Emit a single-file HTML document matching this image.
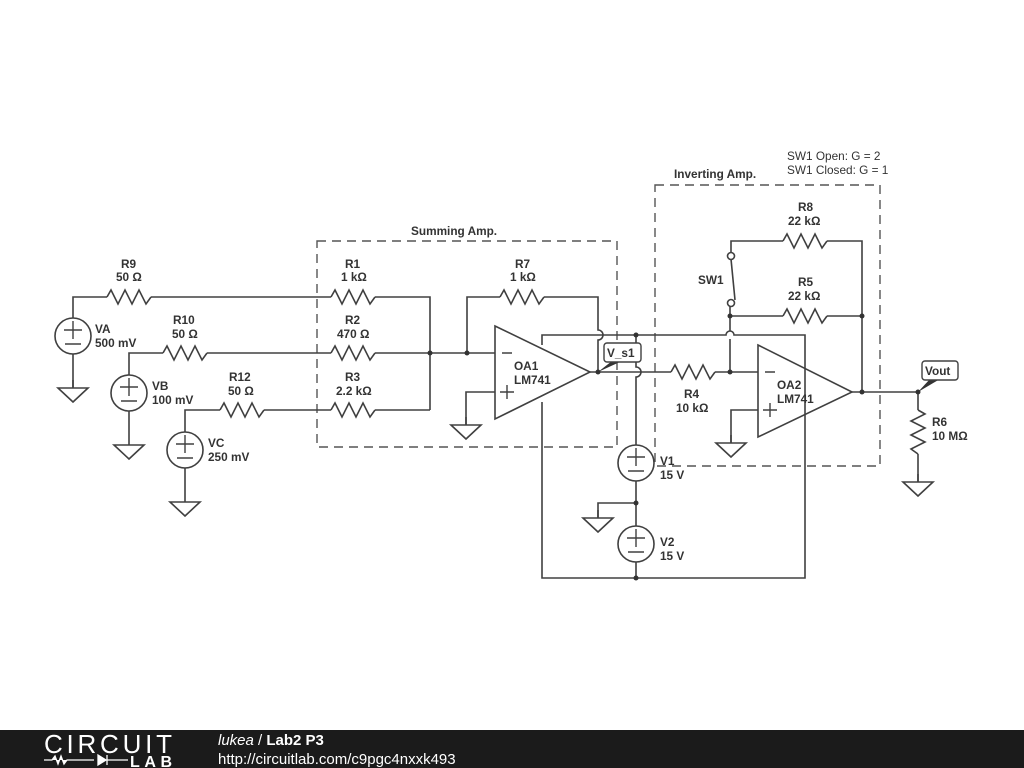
<!DOCTYPE html>
<html><head><meta charset="utf-8"><style>
html,body{margin:0;padding:0;background:#fff;}
svg{display:block;}
text{font-family:"Liberation Sans",Arial,sans-serif;font-size:11.8px;font-weight:bold;fill:#333;}
.n{font-weight:normal;}
</style></head><body>
<svg width="1024" height="768" viewBox="0 0 1024 768" xmlns="http://www.w3.org/2000/svg">
<defs>
<path id="r" d="M0 0 L4 -7 L11 7 L18 -7 L25 7 L32 -7 L39 7 L44 0" fill="none"/>
<g id="gnd"><path d="M0 0 V8 M-15 8 H15 L0 22 Z" fill="none"/></g>
</defs>
<g stroke="#404040" stroke-width="1.6" fill="none">
<g stroke="#555" stroke-dasharray="9,6" stroke-width="1.4">
<rect x="317" y="241" width="300" height="206"/>
<rect x="655" y="185" width="225" height="281"/>
</g>
<circle cx="73" cy="336" r="18"/>
<path d="M73 318 V297 H107 M151 297 H331 M375 297 H430 V410 M73 354 V388"/>
<use href="#r" x="107" y="297"/><use href="#r" x="331" y="297"/>
<use href="#gnd" x="73" y="380"/>
<circle cx="129" cy="393" r="18"/>
<path d="M129 375 V353 H163 M207 353 H331 M375 353 H495 M129 411 V437"/>
<use href="#r" x="163" y="353"/><use href="#r" x="331" y="353"/>
<use href="#gnd" x="129" y="437"/>
<circle cx="185" cy="450" r="18"/>
<path d="M185 432 V410 H220 M264 410 H331 M375 410 H430 M185 468 V494"/>
<use href="#r" x="220" y="410"/><use href="#r" x="331" y="410"/>
<use href="#gnd" x="185" y="494"/>
<path d="M495 326 L590 372 L495 419 Z"/>
<path d="M467 353 V297 H500 M544 297 H598 V330 A5 5 0 0 1 598 340 V372"/>
<use href="#r" x="500" y="297"/>
<path d="M495 392 H466 V425"/>
<use href="#gnd" x="466" y="417"/>
<path d="M590 372 H671 M715 372 H758"/>
<use href="#r" x="671" y="372"/>
<path d="M542 345 V335 H726 A4 4 0 0 1 734 335 H805 V578 H542 V402"/>
<path d="M636 335 V367 A5 5 0 0 1 636 377 V445 M636 481 V526 M636 562 V578 M636 503 H598 V518"/>
<circle cx="636" cy="463" r="18"/><circle cx="636" cy="544" r="18"/>
<use href="#gnd" x="598" y="510"/>
<path d="M758 345 L852 392 L758 437 Z"/>
<path d="M758 410 H731 V443"/>
<use href="#gnd" x="731" y="435"/>
<path d="M730 372 V339 M730 331 V316 H783 M827 316 H862 M730 316 V307"/>
<path d="M731 252 V241 H783 M827 241 H862 V392 M852 392 H918 V410 M918 454 V482"/>
<use href="#r" x="783" y="316"/><use href="#r" x="783" y="241"/>
<use href="#r" x="0" y="0" transform="translate(918,410) rotate(90)"/>
<use href="#gnd" x="918" y="474"/>
<circle cx="731" cy="256" r="3.5" fill="#fff"/><circle cx="731" cy="303" r="3.5" fill="#fff"/>
<path d="M731 259 L735 300"/>
</g>
<g stroke="#404040" stroke-width="1.4">
<path d="M64 330 H82 M73 321 V339 M65 344 H81"/>
<path d="M120 387 H138 M129 378 V396 M121 401 H137"/>
<path d="M176 444 H194 M185 435 V453 M177 458 H193"/>
<path d="M627 457 H645 M636 448 V466 M628 471 H644"/>
<path d="M627 538 H645 M636 529 V547 M628 552 H644"/>
<path d="M502 353 H512 M500 392 H514 M507 385 V399"/>
<path d="M765 372 H775 M763 410 H777 M770 403 V417"/>
</g>
<g fill="#333">
<circle cx="430" cy="353" r="2.5"/><circle cx="467" cy="353" r="2.5"/>
<circle cx="598" cy="372" r="2.5"/><circle cx="636" cy="335" r="2.5"/>
<circle cx="636" cy="503" r="2.5"/><circle cx="636" cy="578" r="2.5"/>
<circle cx="730" cy="372" r="2.5"/><circle cx="730" cy="316" r="2.5"/>
<circle cx="862" cy="316" r="2.5"/><circle cx="862" cy="392" r="2.5"/>
<circle cx="918" cy="392" r="2.5"/>
<path d="M598 372 L612 361 L622 361 Z"/>
<path d="M918 392 L930 379 L940 379 Z"/>
</g>
<rect x="604" y="343" width="37" height="19" rx="3" fill="#fff" stroke="#404040" stroke-width="1.4"/>
<rect x="922" y="361" width="36" height="19" rx="3" fill="#fff" stroke="#404040" stroke-width="1.4"/>
<text x="607" y="357">V_s1</text>
<text x="925" y="375">Vout</text>
<text x="121" y="268">R9</text><text x="116" y="281">50 Ω</text>
<text x="95" y="333">VA</text><text x="95" y="347">500 mV</text>
<text x="173" y="324">R10</text><text x="172" y="338">50 Ω</text>
<text x="152" y="390">VB</text><text x="152" y="404">100 mV</text>
<text x="229" y="381">R12</text><text x="228" y="395">50 Ω</text>
<text x="208" y="447">VC</text><text x="208" y="461">250 mV</text>
<text x="345" y="268">R1</text><text x="341" y="281">1 kΩ</text>
<text x="345" y="324">R2</text><text x="337" y="338">470 Ω</text>
<text x="345" y="381">R3</text><text x="336" y="395">2.2 kΩ</text>
<text x="411" y="235">Summing Amp.</text>
<text x="515" y="268">R7</text><text x="510" y="281">1 kΩ</text>
<text x="514" y="370">OA1</text><text x="514" y="384">LM741</text>
<text x="660" y="465">V1</text><text x="660" y="479">15 V</text>
<text x="660" y="546">V2</text><text x="660" y="560">15 V</text>
<text x="684" y="398">R4</text><text x="676" y="412">10 kΩ</text>
<text x="777" y="389">OA2</text><text x="777" y="403">LM741</text>
<text x="698" y="284">SW1</text>
<text x="674" y="178">Inverting Amp.</text>
<text x="798" y="211">R8</text><text x="788" y="225">22 kΩ</text>
<text x="798" y="286">R5</text><text x="788" y="300">22 kΩ</text>
<text x="932" y="426">R6</text><text x="932" y="440">10 MΩ</text>
<text class="n" x="787" y="160">SW1 Open: G = 2</text>
<text class="n" x="787" y="174">SW1 Closed: G = 1</text>
<rect x="0" y="730" width="1024" height="38" fill="#1b1b1b"/>
<text x="44" y="753" style="font-size:26px;font-weight:normal;fill:#fff;letter-spacing:0px" textLength="128">CIRCUIT</text>
<path d="M44 760 H52 L55 756 L58 764 L61 756 L64 764 L67 760 H94 M98 755 V765 L106 760 Z M107 755 V765 M107 760 H128" stroke="#fff" stroke-width="1.3" fill="#fff"/>
<text x="130" y="767" style="font-size:16px;font-weight:bold;fill:#fff" textLength="42">LAB</text>
<text x="218" y="745" style="font-size:15px;fill:#fff;font-weight:normal"><tspan font-style="italic">lukea</tspan> / <tspan font-weight="bold">Lab2 P3</tspan></text>
<text x="218" y="764" style="font-size:15px;fill:#fff;font-weight:normal">http://circuitlab.com/c9pgc4nxxk493</text>
</svg>
</body></html>
